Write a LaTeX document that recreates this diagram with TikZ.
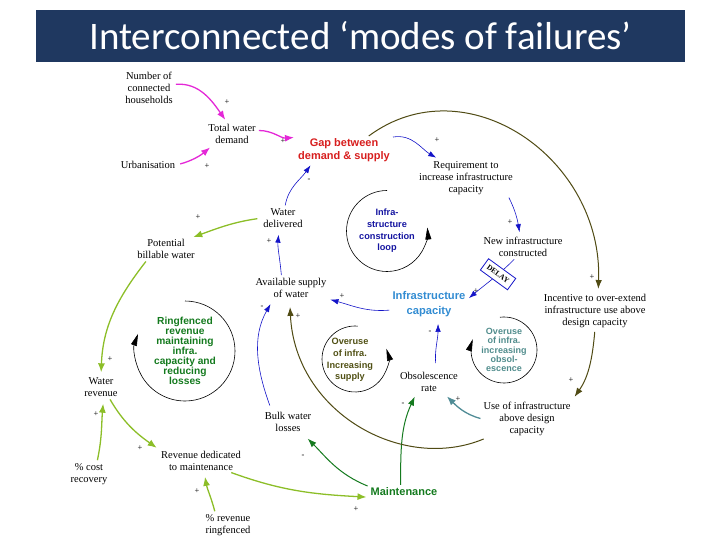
\documentclass[tikz,border=0pt]{standalone}
\usepackage{fontspec}
\setmainfont{Liberation Serif}
\setsansfont{Liberation Sans}
\newfontfamily\titlefont{Carlito}
\usetikzlibrary{arrows.meta}
\definecolor{cldNavy}{RGB}{31,56,96}
\definecolor{cldMagenta}{RGB}{228,40,215}
\definecolor{cldBlue}{RGB}{20,20,200}
\definecolor{cldLime}{RGB}{140,190,40}
\definecolor{cldGreen}{RGB}{20,122,30}
\definecolor{cldOlive}{RGB}{80,75,20}
\definecolor{cldTeal}{RGB}{80,140,150}
\definecolor{cldRed}{RGB}{215,30,30}
\definecolor{cldSky}{RGB}{50,140,210}
\definecolor{cldInk}{RGB}{20,20,160}
\definecolor{cldMoss}{RGB}{80,80,20}
\definecolor{cldSea}{RGB}{80,140,140}
\tikzset{
    x=1pt, y=1pt,
    >=Latex,
    cld_var/.style={
        inner sep=1pt,
        align=center,
        font=\fontsize{10.5}{12}\selectfont
    },
    cld_key/.style={
        inner sep=1pt,
        align=center,
        font=\sffamily\bfseries\fontsize{11}{13}\selectfont
    },
    cld_loop/.style={
        inner sep=0pt,
        align=center,
        font=\sffamily\bfseries\fontsize{9.2}{11.7}\selectfont
    },
    cld_sign/.style={
        inner sep=0pt,
        font=\fontsize{8.5}{9}\selectfont
    },
    cld_delay/.style={
        draw,
        fill=white,
        line width=0.8pt,
        inner xsep=4pt,
        inner ysep=4.5pt,
        font=\bfseries\fontsize{7.5}{8}\selectfont
    },
    cld_link/.style={
        shorten >=3pt,
        shorten <=2pt
    },
    cld_pink/.style={cld_link, draw=cldMagenta, line width=1.3pt, -{Latex[length=9pt,width=7pt]}},
    cld_blue/.style={cld_link, draw=cldBlue, line width=0.6pt, -{Latex[length=8pt,width=5.5pt]}},
    cld_lime/.style={cld_link, draw=cldLime, line width=1.3pt, -{Latex[length=9pt,width=7pt]}},
    cld_green/.style={cld_link, draw=cldGreen, line width=1pt, -{Latex[length=9pt,width=6.5pt]}},
    cld_olive/.style={cld_link, draw=cldOlive, line width=1pt, -{Latex[length=9pt,width=6.5pt]}},
    cld_teal/.style={cld_link, draw=cldTeal, line width=1.3pt, -{Latex[length=9pt,width=7pt]}},
    cld_turn/.style={draw=black, line width=0.6pt, -{Triangle[length=12pt,width=6pt]}}
}

\begin{document}
\begin{tikzpicture}
\useasboundingbox (0,0) rectangle (720,-540);

% --- Title ---
\node[fill=cldNavy, minimum width=649pt, minimum height=52pt, inner sep=0pt, text=white,
      font=\titlefont\fontsize{39}{41}\selectfont] (title) at (360.5,-36) {Interconnected ‘modes of failures’};

% --- Variables ---
\node[cld_var] (households) at (149,-88) {Number of\\connected\\households};
\node[cld_var] (demand) at (232,-134) {Total water\\demand};
\node[cld_var] (urban) at (148,-165) {Urbanisation};
\node[cld_key, text=cldRed] (gap) at (344,-150) {Gap between\\demand \& supply};
\node[cld_var] (requirement) at (466,-178) {Requirement to\\increase infrastructure\\capacity};
\node[cld_var] (delivered) at (283,-218) {Water\\delivered};
\node[cld_var] (newinfra) at (523,-247) {New infrastructure\\constructed};
\node[cld_var] (billable) at (166,-249) {Potential\\billable water};
\node[cld_var] (supply) at (291,-288) {Available supply\\of water};
\node[cld_key, text=cldSky, font=\sffamily\bfseries\fontsize{11.2}{15}\selectfont] (capacity) at (429,-304) {Infrastructure\\capacity};
\node[cld_var] (incentive) at (595,-311) {Incentive to over-extend\\infrastructure use above\\design capacity};
\node[cld_var] (revenue) at (101,-387) {Water\\revenue};
\node[cld_var] (obsolescence) at (429,-382) {Obsolescence\\rate};
\node[cld_var] (overuse) at (527,-419) {Use of infrastructure\\above design\\capacity};
\node[cld_var] (losses) at (288,-422) {Bulk water\\losses};
\node[cld_var] (dedicated) at (201,-461) {Revenue dedicated\\to maintenance};
\node[cld_var] (recovery) at (89,-474) {\% cost\\recovery};
\node[cld_key, text=cldGreen] (maintenance) at (404,-492) {Maintenance};
\node[cld_var] (ringfenced) at (228,-525) {\% revenue\\ringfenced};

% --- Loop labels ---
\node[cld_loop, text=cldInk] (constrloop) at (387,-231) {Infra-\\structure\\construction\\loop};
\node[cld_loop, text=cldGreen, font=\sffamily\bfseries\fontsize{10.2}{10}\selectfont] (ringloop) at (185,-351) {Ringfenced\\revenue\\maintaining\\infra.\\capacity and\\reducing\\losses};
\node[cld_loop, text=cldMoss] (supplyloop) at (350,-360) {Overuse\\of infra.\\Increasing\\supply};
\node[cld_loop, text=cldSea, font=\sffamily\bfseries\fontsize{9}{9.3}\selectfont] (obsoloop) at (504,-350) {Overuse\\of infra.\\increasing\\obsol-\\escence};

\draw[cld_turn] (constrloop.center) ++(90:40.5) arc[start angle=90, end angle=365, radius=40.5];
\draw[cld_turn] (ringloop.center) ++(90:50) arc[start angle=90, end angle=-200, radius=50];
\draw[cld_turn] ([shift={(5pt,1pt)}]supplyloop.center) ++(85:33) arc[start angle=85, end angle=378, radius=33];
\draw[cld_turn] (obsoloop.center) ++(97:33) arc[start angle=97, end angle=-199, radius=33];

% --- Demand side ---
\draw[cld_pink, shorten >=4pt] (households.8) to[out=5, in=125] (demand.112);
\draw[cld_pink, shorten <=4pt, shorten >=4pt] (urban.east) to[out=15, in=220] (demand.210);
\draw[cld_pink] (demand.8) to[out=0, in=185] (gap.north west);
\draw[cld_blue] (delivered.80) to[out=80, in=235] (gap.202);
\draw[cld_blue, shorten >=6pt] (supply.131) to[out=95, in=265] (delivered.250);

% --- Revenue side ---
\draw[cld_lime, shorten <=5pt] (delivered.west) to[out=188, in=20] (billable.24);
\draw[cld_lime, shorten >=4pt] (billable.210) to[out=232, in=88] (revenue.north);
\draw[cld_lime, shorten >=6pt] (recovery.56) to[out=78, in=265] (revenue.284);
\draw[cld_lime, shorten >=4pt] (revenue.307) to[out=300, in=145] (dedicated.north west);
\draw[cld_lime, shorten >=5pt] (ringfenced.137) to[out=105, in=280] (dedicated.286);
\draw[cld_lime] (dedicated.339) to[out=340, in=177] (maintenance.south west);
\draw[cld_green, shorten >=8pt] (maintenance.north west) to[out=158, in=315] (losses.322);
\draw[cld_green, shorten >=4pt] (maintenance.123) to[out=90, in=245] (obsolescence.221);

% --- Infrastructure side ---
\draw[cld_blue, shorten >=5pt] (gap.15) to[out=10, in=150] (requirement.145);
\draw[cld_blue, shorten >=4pt] (requirement.337) to[out=297, in=100] (newinfra.104);
\draw[cld_blue] (newinfra.236) to[out=225, in=40] node[cld_delay, pos=0.36, rotate=-36] (delay) {DELAY} (capacity.6);
\draw[cld_blue] (capacity.189) to[out=185, in=345] (supply.south east);
\draw[cld_blue, shorten <=8pt, shorten >=6pt] (obsolescence.56) to[out=95, in=270] (capacity.303);
\draw[cld_blue, shorten <=6pt, shorten >=6pt] (losses.146) to[out=110, in=240] (supply.212);
\draw[cld_olive, shorten >=4pt] (gap.29) .. controls (466,-64) and (603,-158) .. (incentive.80);
\draw[cld_olive, shorten <=3pt, shorten >=5pt] (incentive.south) to[out=265, in=55] (overuse.north east);
\draw[cld_teal, shorten >=5pt] (overuse.west) to[out=165, in=315] (obsolescence.323);
\draw[cld_olive, shorten <=5pt, shorten >=8pt] (overuse.205) .. controls (402,-473) and (295,-412) .. (supply.263);

% --- Polarities ---
\foreach \px/\py/\ps [count=\i] in {227/102/+, 207/166/+, 283/141/+, 309/180/-, 198/217/+,
    269/241/+, 110/359/+, 262/307/-, 298/316/+, 437/140/+, 510/222/+, 592/277/+,
    571/380/+, 476/291/+, 342/296/+, 430/332/-, 458/399/+, 403/404/-, 303/456/-,
    356/509/+, 197/491/+, 140/448/+, 96/414/+}
    \node[cld_sign] (sg\i) at (\px,-\py) {\ps};

\end{tikzpicture}
\end{document}
